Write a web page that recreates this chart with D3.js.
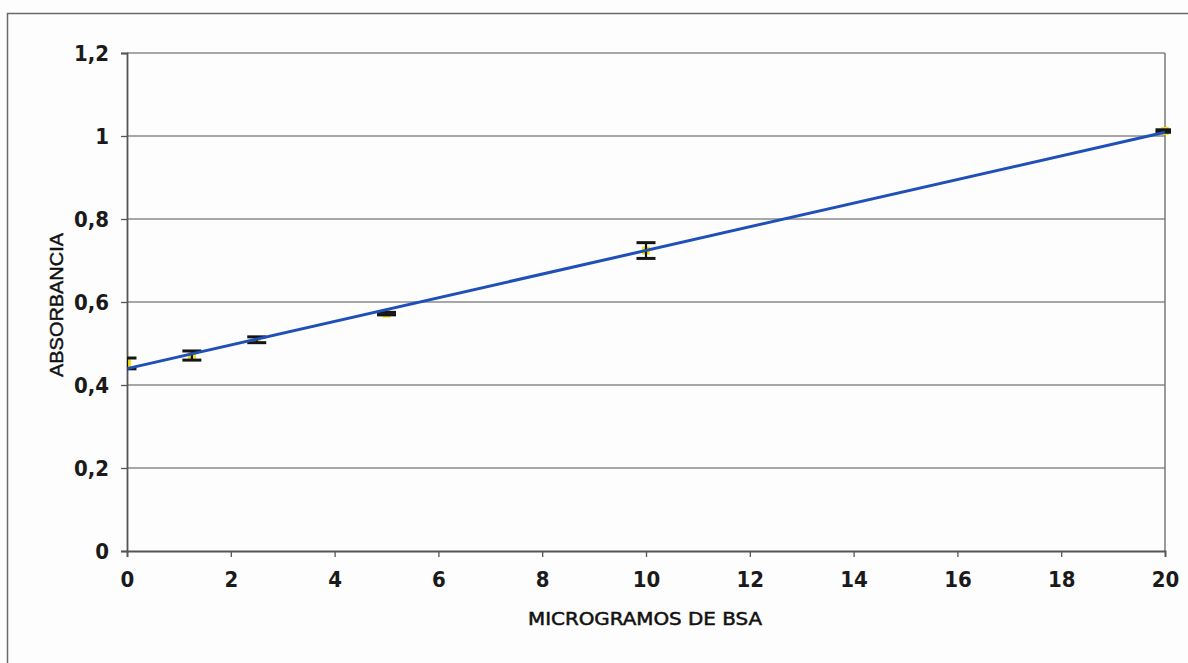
<!DOCTYPE html>
<html>
<head>
<meta charset="utf-8">
<script src="https://cdn.jsdelivr.net/npm/d3@7"></script>
<style>
  html, body { margin: 0; padding: 0; background: #fdfdfd; }
  svg { display: block; }
</style>
</head>
<body>
<svg id="chart" width="1188" height="663"></svg>
<script>
// BSA standard curve: absorbance vs micrograms of BSA
const microgramsBSA = [0, 1.25, 2.5, 5, 10, 20];
const absorbance    = [0.452, 0.471, 0.509, 0.572, 0.724, 1.012];
const errorSD       = [0.013, 0.011, 0.007, 0.003, 0.019, 0.003];
const xTicks = [0, 2, 4, 6, 8, 10, 12, 14, 16, 18, 20];
const yTicks = [0, 0.2, 0.4, 0.6, 0.8, 1, 1.2];

const svg = d3.select("#chart");
const W = 1188, H = 663;
const m = { left: 127, top: 53, right: 1165, bottom: 551 };

// outer chart frame (left and top edges)
svg.append("path")
  .attr("d", `M7.5,${H} L7.5,13.5 L${W},13.5`)
  .attr("fill", "none").attr("stroke", "#6a6a6a").attr("stroke-width", 1.5);

const x = d3.scaleLinear().domain([0, 20]).range([m.left, m.right]);
const y = d3.scaleLinear().domain([0, 1.2]).range([m.bottom, m.top]);

// horizontal gridlines
svg.append("g").selectAll("line").data(yTicks.filter(d => d > 0))
  .join("line")
  .attr("x1", m.left).attr("x2", m.right)
  .attr("y1", d => y(d)).attr("y2", d => y(d))
  .attr("stroke", "#8a8a8a").attr("stroke-width", 1.3);

// right border of plot area
svg.append("line")
  .attr("x1", m.right).attr("x2", m.right).attr("y1", m.top).attr("y2", m.bottom)
  .attr("stroke", "#7a7a7a").attr("stroke-width", 1.5);

const tickFont = "'DejaVu Sans Condensed', 'DejaVu Sans', sans-serif";

// x axis
const xAxis = svg.append("g")
  .attr("transform", `translate(0,${m.bottom})`)
  .call(d3.axisBottom(x).tickValues(xTicks).tickSize(6).tickPadding(14)
        .tickFormat(d3.format("d")));
xAxis.select(".domain").attr("stroke", "#555").attr("stroke-width", 1.8);
xAxis.selectAll(".tick line").attr("stroke", "#555").attr("stroke-width", 1.3);
xAxis.selectAll(".tick text")
  .attr("font-family", tickFont).attr("font-weight", "bold")
  .attr("font-size", 22).attr("fill", "#1a1a1a");

// y axis
const yAxis = svg.append("g")
  .attr("transform", `translate(${m.left},0)`)
  .call(d3.axisLeft(y).tickValues(yTicks).tickSize(6).tickPadding(12)
        .tickFormat(d => d3.format("~g")(d).replace(".", ",")));
yAxis.select(".domain").attr("stroke", "#555").attr("stroke-width", 1.8);
yAxis.selectAll(".tick line").attr("stroke", "#555").attr("stroke-width", 1.3);
yAxis.selectAll(".tick text")
  .attr("font-family", tickFont).attr("font-weight", "bold")
  .attr("font-size", 22).attr("fill", "#1a1a1a").attr("dy", "0.36em");

// axis titles
svg.append("text")
  .attr("x", 645).attr("y", 625)
  .attr("text-anchor", "middle")
  .attr("font-family", "'DejaVu Sans Condensed', sans-serif")
  .attr("font-size", 17).attr("fill", "#111")
  .attr("stroke", "#111").attr("stroke-width", 0.45)
  .attr("textLength", 234).attr("lengthAdjust", "spacingAndGlyphs")
  .text("MICROGRAMOS DE BSA");

svg.append("text")
  .attr("transform", "translate(63,305) rotate(-90)")
  .attr("text-anchor", "middle")
  .attr("font-family", "'Liberation Sans', Arial, sans-serif")
  .attr("font-size", 18).attr("fill", "#111")
  .attr("stroke", "#111").attr("stroke-width", 0.45)
  .attr("textLength", 144).attr("lengthAdjust", "spacingAndGlyphs")
  .text("ABSORBANCIA");

// clip to plot area
svg.append("clipPath").attr("id", "plotClip")
  .append("rect").attr("x", m.left).attr("y", m.top - 6)
  .attr("width", m.right - m.left + 6).attr("height", m.bottom - m.top + 6);

const points = microgramsBSA.map((v, i) => ({ x: v, y: absorbance[i], e: errorSD[i] }));
const plot = svg.append("g").attr("clip-path", "url(#plotClip)");

// data markers
plot.selectAll("rect.marker").data(points).join("rect")
  .attr("class", "marker")
  .attr("x", d => x(d.x) - 4).attr("y", d => y(d.y) - 4)
  .attr("width", 8).attr("height", 8)
  .attr("fill", "#f2e21a");

// error bars
const eb = plot.selectAll("g.err").data(points).join("g").attr("class", "err")
  .attr("stroke", "#151515").attr("stroke-width", 3);
eb.append("line")
  .attr("x1", d => x(d.x)).attr("x2", d => x(d.x))
  .attr("y1", d => y(d.y + d.e)).attr("y2", d => y(d.y - d.e))
  .attr("stroke-width", 2.2);
eb.append("line")
  .attr("x1", d => x(d.x) - 9.5).attr("x2", d => x(d.x) + 9.5)
  .attr("y1", d => y(d.y + d.e)).attr("y2", d => y(d.y + d.e));
eb.append("line")
  .attr("x1", d => x(d.x) - 9.5).attr("x2", d => x(d.x) + 9.5)
  .attr("y1", d => y(d.y - d.e)).attr("y2", d => y(d.y - d.e));

// linear trend line (least squares fit)
const mx = d3.mean(microgramsBSA), my = d3.mean(absorbance);
const slope = d3.sum(points, p => (p.x - mx) * (p.y - my)) / d3.sum(points, p => (p.x - mx) ** 2);
const intercept = my - slope * mx;
svg.append("path")
  .datum([0, 20])
  .attr("d", d3.line().x(d => x(d)).y(d => y(intercept + slope * d)))
  .attr("fill", "none").attr("stroke", "#1f4fb8").attr("stroke-width", 3);
</script>
</body>
</html>
